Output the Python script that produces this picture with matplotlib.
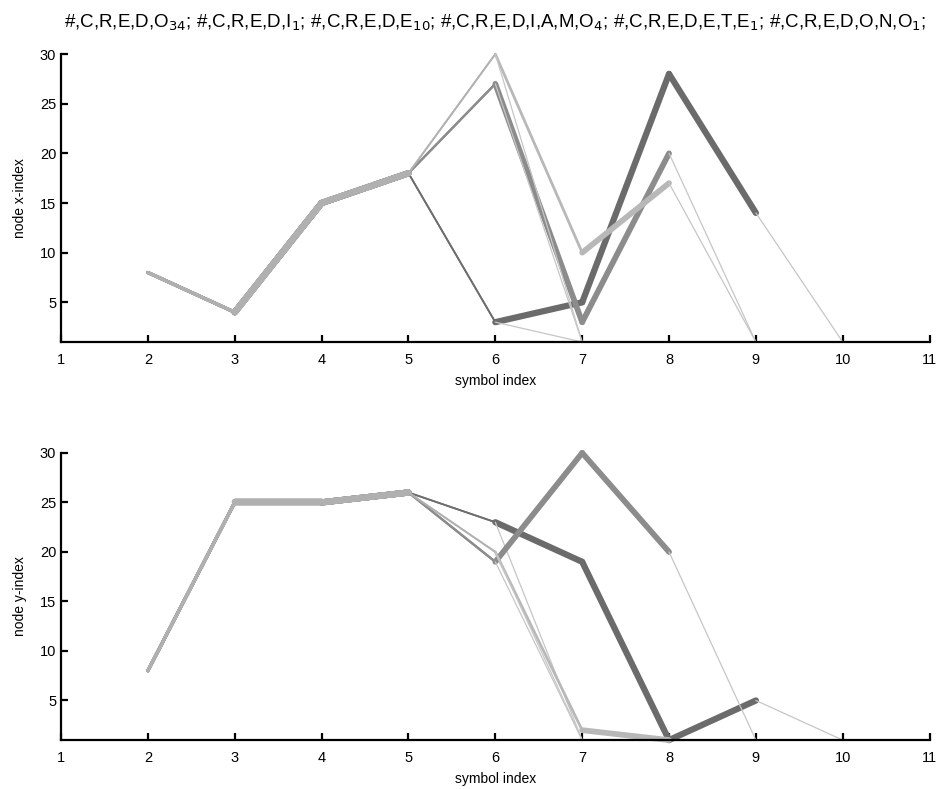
import numpy as np
import matplotlib.pyplot as plt

plt.rcParams['font.family'] = ['Liberation Sans', 'DejaVu Sans']

words = ['#CREDO', '#CREDI', '#CREDE', '#CREDIAMO', '#CREDETE', '#CREDONO']
counts = [34, 1, 10, 4, 1, 1]

# winning node for each symbol after '#', last entry is the end node
node_x = [
    [8, 4, 15, 18, 30, 1],
    [8, 4, 15, 18, 3, 1],
    [8, 4, 15, 18, 27, 1],
    [8, 4, 15, 18, 3, 5, 28, 14, 1],
    [8, 4, 15, 18, 27, 3, 20, 1],
    [8, 4, 15, 18, 30, 10, 17, 1],
]
node_y = [
    [8, 25, 25, 26, 20, 1],
    [8, 25, 25, 26, 23, 1],
    [8, 25, 25, 26, 19, 1],
    [8, 25, 25, 26, 23, 19, 1, 5, 1],
    [8, 25, 25, 26, 19, 30, 20, 1],
    [8, 25, 25, 26, 20, 2, 1, 1],
]
# strength of each transition between consecutive nodes
trans_w = [
    [0.4, 1.0, 1.0, 0.1, 0.0],
    [0.4, 1.0, 1.0, 0.1, 0.0],
    [0.4, 1.0, 1.0, 0.2, 0.0],
    [0.4, 1.0, 1.0, 0.1, 1.0, 1.0, 1.0, 0.0],
    [0.4, 1.0, 1.0, 0.2, 0.9, 0.9, 0.0],
    [0.4, 1.0, 1.0, 0.1, 0.3, 0.9, 0.0],
]

# drawing order (dark first, light on top) and grey per word
order = [3, 1, 4, 2, 5, 0]
greys = {0: '#b0b0b0', 1: '#6e6e6e', 2: '#8c8c8c',
         3: '#6b6b6b', 4: '#8c8c8c', 5: '#b8b8b8'}
end_grey = '#c6c6c6'

parts = []
for w, c in zip(words, counts):
    parts.append(','.join(w) + '$_{%d}$' % c)
title = '; '.join(parts) + ';'

fig = plt.figure(figsize=(9.39, 7.89), dpi=100)
ax1 = fig.add_axes([0.065, 0.5665, 0.925, 0.365])
ax2 = fig.add_axes([0.065, 0.062, 0.925, 0.364])


def draw(ax, nodes):
    for i in order:
        p = nodes[i]
        s = np.arange(2, 2 + len(p))
        for k in range(len(p) - 1):
            w = trans_w[i][k]
            if w == 0:
                col, lw = end_grey, 0.9
            else:
                col, lw = greys[i], 0.9 + 3.6 * w
            ax.plot(s[k:k + 2], p[k:k + 2], color=col, lw=lw,
                    solid_capstyle='round', solid_joinstyle='round',
                    clip_on=False)


def style(ax, ylab):
    ax.set_xlim(1, 11)
    ax.set_ylim(1, 30)
    ax.set_xticks(range(1, 12))
    ax.set_yticks(range(5, 31, 5))
    for side in ['top', 'right']:
        ax.spines[side].set_visible(False)
    for side in ['left', 'bottom']:
        ax.spines[side].set_linewidth(1.6)
    ax.tick_params(direction='in', length=5, width=1.6, labelsize=10.5)
    ax.tick_params(axis='x', pad=8)
    ax.set_xlabel('symbol index', fontsize=10, labelpad=5)
    ax.set_ylabel(ylab, fontsize=10, labelpad=9)


draw(ax1, node_x)
draw(ax2, node_y)
style(ax1, 'node x-index')
style(ax2, 'node y-index')
ax1.set_title(title, fontsize=13.5, pad=19)

fig.savefig('out.png', dpi=100)
